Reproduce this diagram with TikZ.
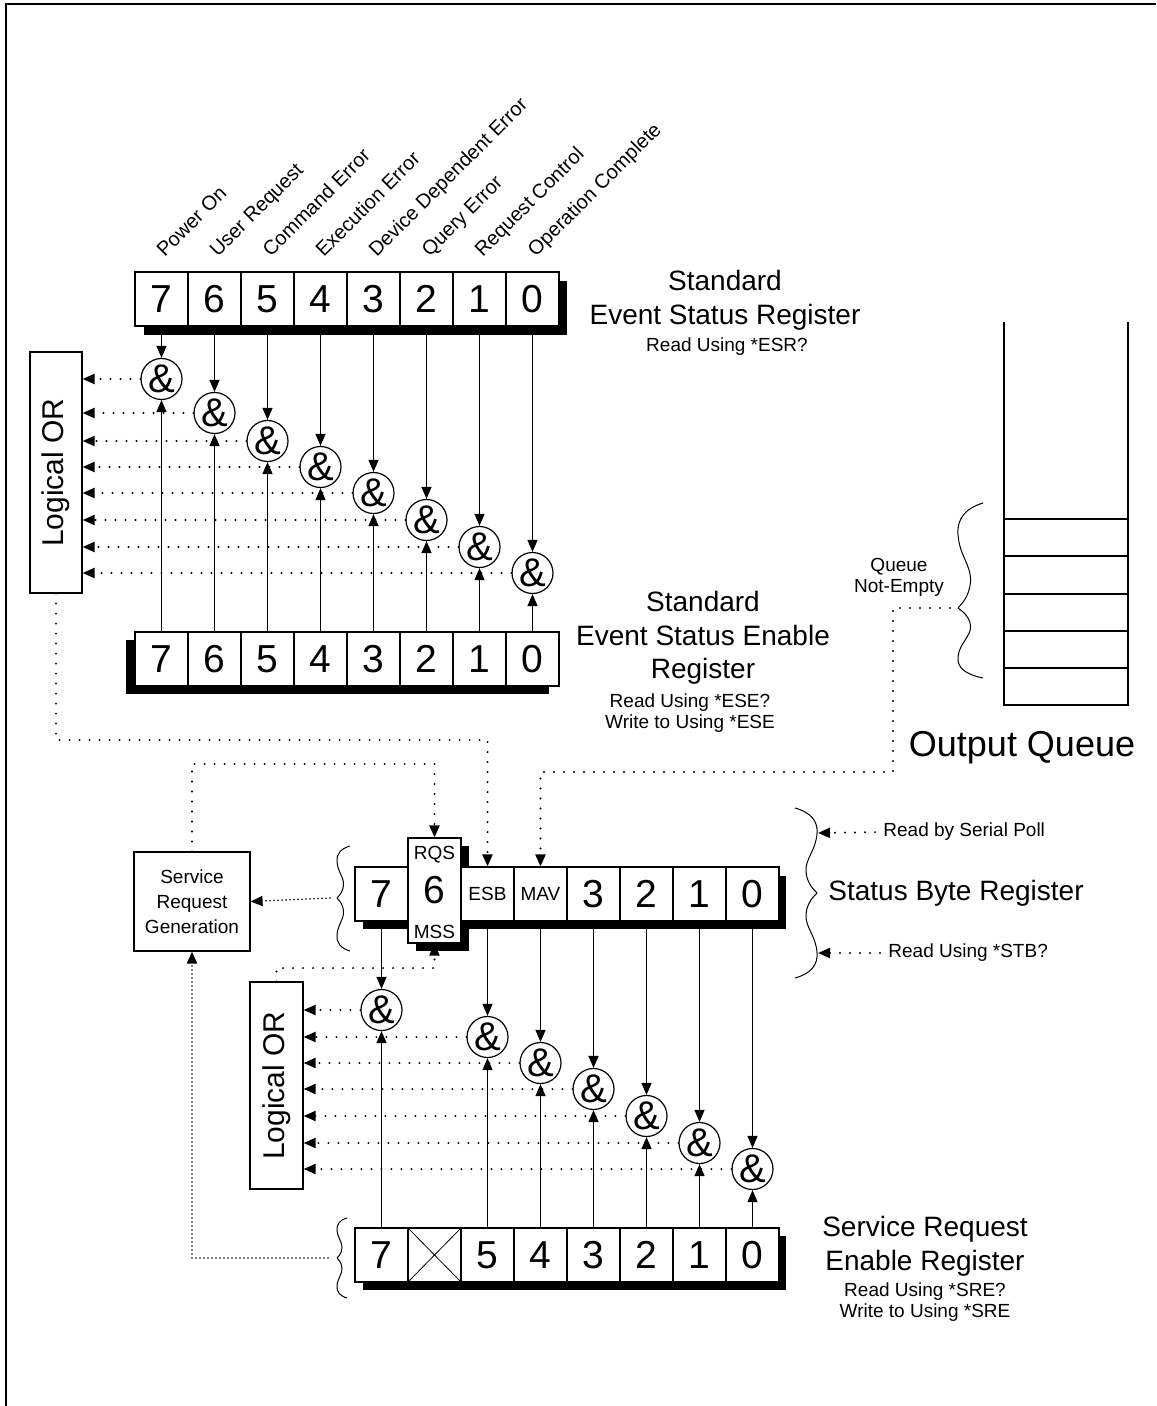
\documentclass[tikz,border=0pt]{standalone}
\usepackage{fontspec}
\setmainfont{Liberation Sans}
\usetikzlibrary{arrows.meta,positioning}
\tikzset{
  cell/.style={
    draw, line width=0.6pt, fill=white, minimum width=26.5pt,
    minimum height=27pt, inner sep=0pt, font=\fontsize{19.5}{20}\selectfont
  },
  tallcell/.style={cell, minimum height=52.5pt},
  tagtext/.style={font=\fontsize{9.5}{10}\selectfont, inner sep=0pt},
  gate/.style={
    circle, draw, line width=0.6pt, fill=white, minimum size=20.5pt,
    inner sep=0pt, font=\fontsize{20}{20}\selectfont
  },
  orbox/.style={draw, line width=0.6pt, fill=white, inner sep=0pt},
  ortext/.style={rotate=90, font=\fontsize{15}{15}\selectfont},
  title/.style={align=center, font=\fontsize{14}{16.8}\selectfont, inner sep=0pt},
  note/.style={align=center, font=\fontsize{9.5}{10.5}\selectfont, inner sep=0pt},
  bitlabel/.style={rotate=45, anchor=base west, inner sep=0pt, font=\fontsize{10}{10}\selectfont},
  shade/.style={fill=black},
  flow/.style={-{Triangle[length=6pt,width=5pt]}, line width=0.6pt},
  dotflow/.style={-{Triangle[length=6pt,width=5pt]}, line width=1.1pt,
    line cap=round, dash pattern=on 0pt off 5pt},
  densedot/.style={dotflow, line width=0.9pt, dash pattern=on 0pt off 2pt},
  halfcurl/.pic={
    \draw[line width=0.5pt] (1,-1) .. controls (0.3,-0.95) and (-0.05,-0.85) .. (0,-0.7)
      .. controls (0.05,-0.5) and (0.55,-0.4) .. (0.5,-0.25)
      .. controls (0.45,-0.1) and (0.1,-0.03) .. (0,0);
  }
}
\begin{document}
\begin{tikzpicture}[x=0.5pt,y=-0.5pt]
  \useasboundingbox (0,0) rectangle (1156,1406);
  \draw[line width=1pt] (6,1406) -- (6,4) -- (1156,4);

  % standard event status register
  \fill[shade] (144,281) rectangle (567,335);
  \foreach \b [count=\k from 0] in {7,...,0}
    \node[cell] (esr\b) at (161.5+53*\k,299) {\b};
  \foreach \b/\txt [count=\k from 0] in {7/Power On,6/User Request,5/Command Error,
      4/Execution Error,3/Device Dependent Error,2/Query Error,1/Request Control,
      0/Operation Complete}
    \node[bitlabel] (lbl\b) at (164.5+53*\k,258) {\txt};
  \node[title] (esrname) at (725,300) {Standard\\Event Status Register};
  \node[note] (esrread) at (727,347) {Read Using *ESR?};

  % enable register
  \fill[shade] (126,640) rectangle (549,694);
  \foreach \b [count=\k from 0] in {7,...,0}
    \node[cell] (ese\b) at (161.5+53*\k,659) {\b};
  \node[title] (esename) at (703,638) {Standard\\Event Status Enable\\Register};
  \node[note] (eseread) at (690,713) {Read Using *ESE?\\Write to Using *ESE};

  \node[orbox, minimum width=26pt, minimum height=120.5pt] (or1) at (56,472.5) {};
  \node[ortext] (or1txt) at (or1) {Logical OR};
  \foreach \b/\y in {7/379,6/413,5/441,4/467,3/493,2/520,1/547,0/573} {
    \node[gate] (and\b) at (esr\b |- 0,\y) {\&};
    \draw[flow] (esr\b.south) -- (and\b.north);
    \draw[flow] (ese\b.north) -- (and\b.south);
    \draw[dotflow] (and\b.west) -- (and\b.west -| or1.east);
  }

  % output queue
  \draw[line width=0.6pt] (1004,322) -- (1004,705) -- (1128,705) -- (1128,322);
  \foreach \y in {519,556,594,631,668}
    \draw[line width=0.6pt] (1004,\y) -- (1128,\y);
  \pic[xscale=25,yscale=105] at (958,608) {halfcurl};
  \pic[xscale=25,yscale=-70] at (958,608) {halfcurl};
  \coordinate (qtip) at (950,608);
  \node[note] (qlabel) at (899,577) {Queue\\Not-Empty};
  \node[font=\fontsize{18}{18}\selectfont] (qname) at (1022,748) {Output Queue};

  % status byte register
  \fill[shade] (363,876) rectangle (786,929);
  \fill[shade] (416,846) rectangle (469,951);
  \node[cell] (sb7) at (381.5,894) {7};
  \node[tallcell] (sb6) at (434.5,890.5) {6};
  \node[tagtext] (rqs) at (434.5,855) {RQS};
  \node[tagtext] (mss) at (434.5,932) {MSS};
  \node[cell, font=\fontsize{9.5}{10}\selectfont] (sbesb) at (487.5,894) {ESB};
  \node[cell, font=\fontsize{9.5}{10}\selectfont] (sbmav) at (540.5,894) {MAV};
  \foreach \b [count=\k from 0] in {3,...,0}
    \node[cell] (sb\b) at (593.5+53*\k,894) {\b};
  \node[title] (sbname) at (956,893) {Status Byte Register};
  \pic[xscale=-22,yscale=85] at (817,893) {halfcurl};
  \pic[xscale=-22,yscale=-85] at (817,893) {halfcurl};
  \coordinate (pollin) at (818,833);
  \coordinate (stbin) at (818,953);
  \node[note, anchor=west] (pollnote) at (883,832) {Read by Serial Poll};
  \node[note, anchor=west] (stbnote) at (888,953) {Read Using *STB?};
  \draw[dotflow, shorten <=4pt] (pollnote.west) -- (pollin);
  \draw[dotflow, shorten <=4pt] (stbnote.west) -- (stbin);

  \node[draw, line width=0.6pt, minimum width=58pt, minimum height=49.5pt, align=center,
    font=\fontsize{9.5}{12.5}\selectfont] (srg) at (192,901.5) {Service\\Request\\Generation};
  \pic[xscale=13,yscale=52] at (337,898) {halfcurl};
  \pic[xscale=13,yscale=-53] at (337,898) {halfcurl};
  \coordinate (sbtip) at (330,898);
  \draw[densedot] (sbtip) -- (srg.east);

  % links into the status byte
  \coordinate (esbbend) at (487.5,740);
  \coordinate (rqsbend) at (434.5,764);
  \coordinate (mavbend) at (893,772);
  \draw[dotflow] (or1.south) |- (esbbend) -- (sbesb.north);
  \draw[dotflow] (srg.north) |- (rqsbend) -- (sb6.north);
  \draw[dotflow] (qtip) -| (mavbend) -| (sbmav.north);

  % service request enable register
  \fill[shade] (363,1236) rectangle (786,1290);
  \node[cell] (sre7) at (381.5,1255) {7};
  \node[cell] (sre6) at (434.5,1255) {};
  \draw[line width=0.4pt] (sre6.north west) -- (sre6.south east)
    (sre6.north east) -- (sre6.south west);
  \foreach \b [count=\k from 0] in {5,...,0}
    \node[cell] (sre\b) at (487.5+53*\k,1255) {\b};
  \node[title] (srename) at (925,1246) {Service Request\\Enable Register};
  \node[note] (sreread) at (925,1302) {Read Using *SRE?\\Write to Using *SRE};
  \pic[xscale=10,yscale=40] at (337,1258) {halfcurl};
  \pic[xscale=10,yscale=-40] at (337,1258) {halfcurl};
  \coordinate (sretip) at (328,1258);
  \draw[densedot] (sretip) -| (srg.south);

  \node[orbox, minimum width=26.5pt, minimum height=103.5pt] (or2) at (276.5,1085.5) {};
  \node[ortext] (or2txt) at (or2) {Logical OR};
  \foreach \s/\r/\y in {7/7/1010,esb/5/1037,mav/4/1063,3/3/1089,2/2/1116,1/1/1143,0/0/1169} {
    \node[gate] (sand\s) at (sb\s |- 0,\y) {\&};
    \draw[flow] (sb\s.south) -- (sand\s.north);
    \draw[flow] (sre\r.north) -- (sand\s.south);
    \draw[dotflow] (sand\s.west) -- (sand\s.west -| or2.east);
  }
  \coordinate (mssbend) at (434.5,968);
  \draw[dotflow] (or2.north) |- (mssbend) -- (sb6.south);
\end{tikzpicture}
\end{document}
